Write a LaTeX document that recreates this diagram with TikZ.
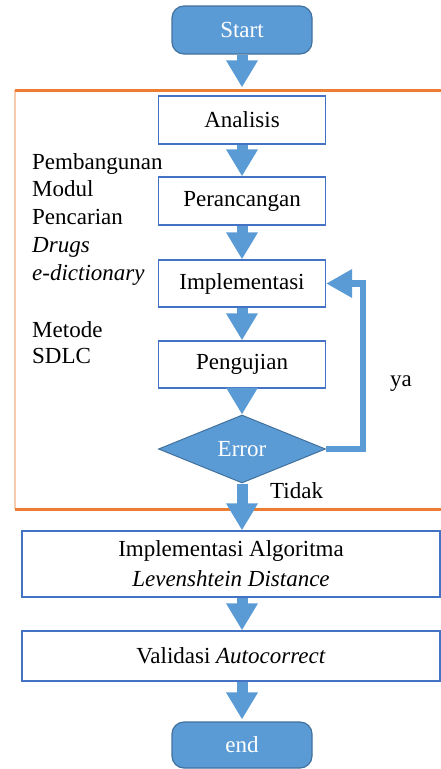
\documentclass[tikz,border=0pt]{standalone}
\usepackage{fontspec}
\setmainfont{Liberation Serif}
\usetikzlibrary{arrows.meta,shapes.geometric}
\definecolor{fillblue}{HTML}{5B9BD5}
\definecolor{edgeblue}{HTML}{41719C}
\definecolor{boxblue}{HTML}{4472C4}
\definecolor{orangeline}{HTML}{ED7D31}
\definecolor{lightorange}{HTML}{F8CBAD}
\begin{document}
\begin{tikzpicture}[x=1pt,y=-1pt,
  font=\fontsize{23}{27.75}\selectfont,
  terminal/.style={draw=edgeblue, line width=1.2pt, fill=fillblue, rounded corners=12pt, minimum width=140pt, text=white, inner sep=0pt},
  stepbox/.style={draw=boxblue, line width=1.3pt, fill=white, minimum width=167pt, inner sep=0pt},
  widebox/.style={draw=boxblue, line width=1.3pt, fill=white, minimum width=418pt, inner sep=0pt, align=center},
  decision/.style={diamond, draw=edgeblue, line width=1pt, fill=fillblue, text=white, minimum width=167pt, minimum height=68pt, aspect=2.46, inner sep=0pt},
  flow/.style={draw=fillblue, line width=11pt, -{Triangle[width=30pt,length=27pt]}},
  loopback/.style={draw=fillblue, line width=6.5pt, line join=miter, -{Triangle[width=27pt,length=26pt]}},
  note/.style={inner sep=0pt, align=left}
]
\useasboundingbox (0,0) rectangle (441,769);
% orange frame
\draw[lightorange, line width=2pt] (15,90) -- (15,509);
\draw[orangeline, line width=3pt] (15,90) -- (441,90);
\draw[orangeline, line width=3pt] (15,509) -- (441,509);

% nodes
\node[terminal, minimum height=48pt] (start) at (242,30) {Start};
\node[stepbox, minimum height=48pt] (ana) at (242,120) {Analisis};
\node[stepbox, minimum height=48pt] (per) at (242,201) {Perancangan};
\node[stepbox, minimum height=47pt] (imp) at (242,283.5) {Implementasi};
\node[stepbox, minimum height=47pt] (uji) at (242,364.5) {Pengujian};
\node[decision] (err) at (242,449) {Error};
\node[widebox, minimum height=66pt, font=\fontsize{23}{30}\selectfont] (alg) at (231,564) {Implementasi Algoritma\\\textit{Levenshtein Distance}};
\node[widebox, minimum height=50pt] (val) at (231,656) {Validasi \textit{Autocorrect}};
\node[terminal, minimum height=46pt] (end) at (242,745) {end};

% labels
\node[note, anchor=north west] (lbl1) at (32,153) {Pembangunan\\Modul\\Pencarian\\\textit{Drugs}\\\textit{e-dictionary}};
\node[note, anchor=north west, font=\fontsize{23}{26}\selectfont] (lbl2) at (32,321) {Metode\\SDLC};
\node[anchor=base west, inner sep=0pt] (ya) at (390,386) {ya};
\node[anchor=base west, inner sep=0pt] (tidak) at (270,498) {Tidak};

% connectors
\draw[flow, shorten >=8pt] (start.south) -- (ana.north);
\draw[flow] (ana) -- (per);
\draw[flow] (per) -- (imp);
\draw[flow] (imp) -- (uji);
\draw[flow] (uji) -- (err);
\draw[flow] (err.south) -- (err.south |- alg.north);
\draw[flow] (alg.south -| err.south) -- (val.north -| err.south);
\draw[flow, shorten >=2pt] (val.south -| end.north) -- (end.north);
\draw[loopback] (err.east) -- ++(37,0) |- (imp.east);
\end{tikzpicture}
\end{document}
